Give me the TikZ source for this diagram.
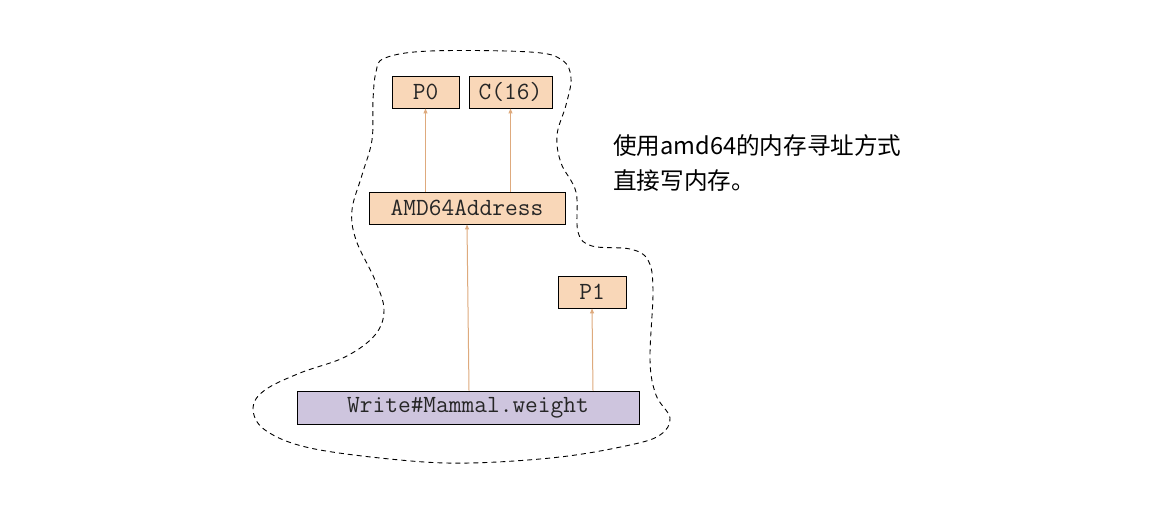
\documentclass[tikz,border=0pt]{standalone}
\usepackage{fontspec}
\newfontfamily\cjk{Noto Sans CJK SC}
\usetikzlibrary{arrows.meta}
\definecolor{peach}{RGB}{249,215,184}
\definecolor{lav}{RGB}{206,197,222}
\definecolor{tan}{RGB}{222,170,125}
\tikzset{
  box/.style={draw=black, line width=0.9pt, inner sep=0pt, font=\ttfamily\fontsize{24.7}{26}\selectfont, text=black!85},
  pbox/.style={box, fill=peach},
  wbox/.style={box, fill=lav},
  arr/.style={draw=tan, line width=1pt, -{Triangle[length=5pt,width=4pt]}},
  blob/.style={draw=black, line width=0.9pt, dash pattern=on 5pt off 4pt}
}
\begin{document}
\begin{tikzpicture}[x=1pt,y=-1pt]
\useasboundingbox[fill=white] (0,0) rectangle (1152,528);
\draw[blob] plot[smooth cycle, tension=0.6] coordinates{
(385,58) (430,51) (530,52) (562,60) (571,78) (566,105) (557,135) (561,163) (576,192) (578,232) (592,246) (630,249) (648,260) (653,290) (650,360) (656,395) (670,418) (660,435) (630,445) (560,457) (470,463) (400,460) (310,448) (265,430) (253,408) (265,390) (300,373) (345,357) (375,335) (384,310) (375,280) (356,240) (352,210) (362,175) (372,140) (373,100) (376,72)};
\node[pbox, minimum width=67pt, minimum height=32pt] (p0) at (425.5,92) {P0};
\node[pbox, minimum width=83pt, minimum height=32pt] (c16) at (510.5,92) {C(16)};
\node[pbox, minimum width=196pt, minimum height=32pt] (amd) at (467,208) {AMD64Address};
\node[pbox, minimum width=68pt, minimum height=32pt] (p1) at (592,292) {P1};
\node[wbox, minimum width=342pt, minimum height=33pt] (w) at (468,407.5) {Write\#Mammal.weight};
\draw[arr] (amd.north -| p0) -- (p0.south);
\draw[arr] (amd.north -| c16) -- (c16.south);
\draw[arr] ([xshift=1pt]w.north) -- (amd.south);
\draw[arr] ([xshift=1pt]w.north -| p1) -- (p1.south);
\node[anchor=west, inner sep=0pt, font=\cjk\fontsize{23.6}{35}\selectfont, align=left] (txt) at (613,163) {使用amd64的内存寻址方式\\直接写内存。};
\end{tikzpicture}
\end{document}
